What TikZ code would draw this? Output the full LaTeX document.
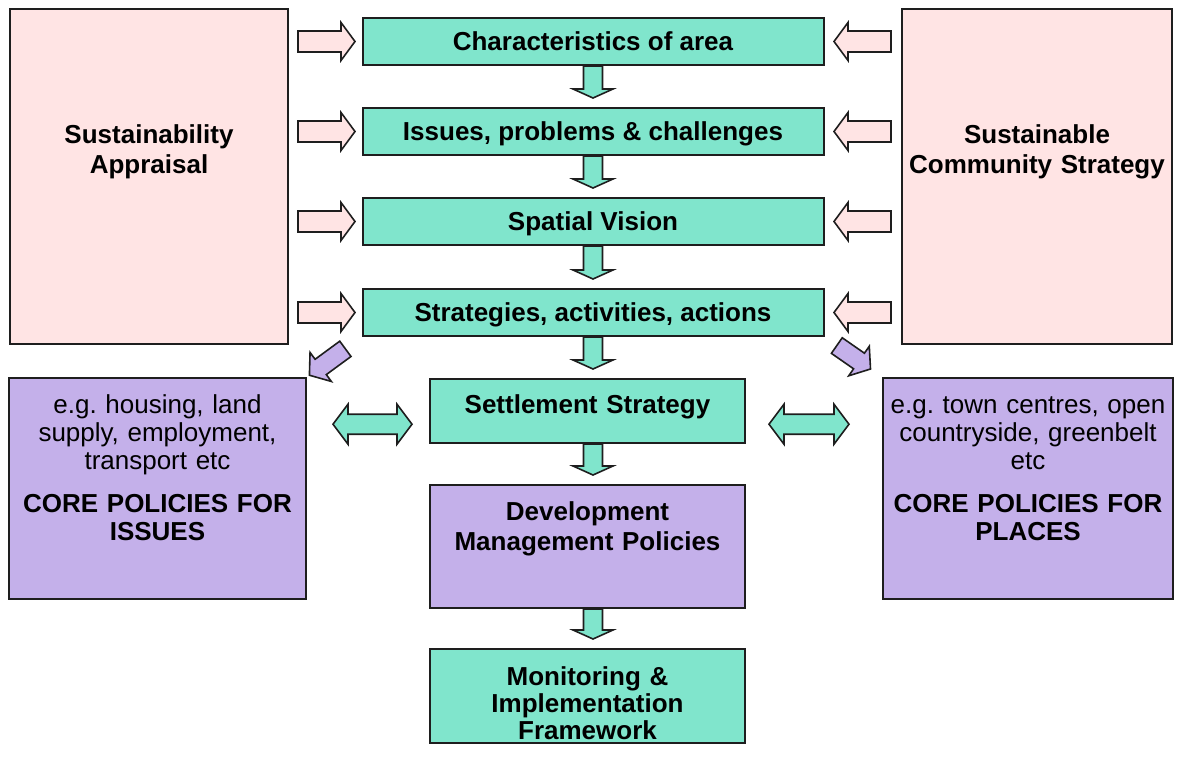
\documentclass[tikz,border=0pt]{standalone}
\usepackage{fontspec}
\setmainfont{Liberation Sans}
\usetikzlibrary{calc}
\frenchspacing

\definecolor{areagreen}{RGB}{128,229,204}
\definecolor{appraisalpink}{RGB}{255,228,228}
\definecolor{policylilac}{RGB}{196,176,234}
\definecolor{edgegrey}{RGB}{30,30,30}

\tikzset{
  ba shaft/.store in=\bashaft, ba head/.store in=\bahead, ba tip/.store in=\batip,
  ba gapa/.store in=\bagapa, ba gapb/.store in=\bagapb,
  ba shaft=5pt, ba head=10pt, ba tip=7pt, ba gapa=0pt, ba gapb=0pt,
  % block arrow drawn between two points
  block arrow/.style={draw=edgegrey, line width=0.8pt, line join=miter, to path={
    ($(\tikztostart)!\bagapa!(\tikztotarget)$) coordinate (ba-a)
    ($(\tikztotarget)!\bagapb!(\tikztostart)$) coordinate (ba-b)
    ($(ba-b)!\batip!(ba-a)$) coordinate (ba-h)
    ($(ba-a)!\bashaft!90:(ba-b)$) -- ($(ba-h)!\bashaft!90:(ba-b)$)
    -- ($(ba-h)!\bahead!90:(ba-b)$) -- (ba-b) -- ($(ba-h)!\bahead!-90:(ba-b)$)
    -- ($(ba-h)!\bashaft!-90:(ba-b)$) -- ($(ba-a)!\bashaft!-90:(ba-b)$) -- cycle}},
  % block arrow with a head at both ends
  block both/.style={draw=edgegrey, line width=0.8pt, line join=miter, to path={
    ($(\tikztostart)!\bagapa!(\tikztotarget)$) coordinate (ba-a)
    ($(\tikztotarget)!\bagapb!(\tikztostart)$) coordinate (ba-b)
    ($(ba-b)!\batip!(ba-a)$) coordinate (ba-h)
    ($(ba-a)!\batip!(ba-b)$) coordinate (ba-g)
    ($(ba-g)!\bashaft!90:(ba-b)$) -- ($(ba-h)!\bashaft!90:(ba-b)$)
    -- ($(ba-h)!\bahead!90:(ba-b)$) -- (ba-b) -- ($(ba-h)!\bahead!-90:(ba-b)$)
    -- ($(ba-h)!\bashaft!-90:(ba-b)$) -- ($(ba-g)!\bashaft!-90:(ba-b)$)
    -- ($(ba-g)!\bahead!-90:(ba-b)$) -- (ba-a) -- ($(ba-g)!\bahead!90:(ba-b)$) -- cycle}},
}

\begin{document}
\begin{tikzpicture}[x=0.5pt, y=-0.5pt,
  box/.style={draw=edgegrey, line width=1pt, inner sep=0pt, align=center, anchor=north,
    font=\bfseries\fontsize{13}{15}\selectfont},
  appraisal/.style={box, fill=appraisalpink, text height=67pt, text depth=100.5pt},
  stage/.style={box, fill=areagreen, minimum width=230.5pt, text height=16pt, text depth=7.5pt},
  core/.style={box, fill=policylilac, font=\fontsize{13}{14}\selectfont,
    text height=17.5pt, text depth=93pt},
  feed/.style={block arrow, fill=appraisalpink, ba shaft=5.25pt, ba head=9.5pt, ba tip=7pt},
  drop/.style={block arrow, fill=areagreen, ba shaft=4.75pt, ba head=10pt, ba tip=4.5pt, ba gapb=4.5pt},
  link/.style={block both, fill=areagreen, ba shaft=5pt, ba head=10pt, ba tip=7.5pt},
  branch/.style={block arrow, fill=policylilac, ba shaft=4.75pt, ba head=9pt, ba tip=7pt}]
\useasboundingbox (0,0) rectangle (1179,771);

% side boxes
\node [appraisal, text width=139pt] (SA) at (149,8) {Sustainability\\ Appraisal};
\node [appraisal, text width=135pt] (SCS) at (1037,8) {Sustainable\\ Community Strategy};

% stages
\foreach \n/\y/\t in {char/17/Characteristics of area, issues/107/{Issues, problems \& challenges},
    vision/197/Spatial Vision, strat/288/{Strategies, activities, actions}}
	\node [stage] (\n) at (593,\y) {\t};

\node [box, fill=areagreen, text width=157.5pt, text height=17pt, text depth=15pt] (settle) at (587.5,378) {Settlement Strategy};
\node [box, fill=policylilac, text width=157.5pt, text height=17.5pt, text depth=44pt] (dev) at (587.5,484) {Development\\ Management Policies};
\node [box, fill=areagreen, text width=157.5pt, text height=18pt, text depth=29pt,
  font=\bfseries\fontsize{13}{13.5}\selectfont] (monitor) at (587.5,648) {Monitoring \&\\ Implementation\\ Framework};

% core policies
\node [core, text width=148.5pt] (IS) at (157.5,377) {e.g. housing, land\\ supply, employment,\\ transport etc\\[7.5pt]
  \textbf{CORE POLICIES FOR}\\ \textbf{ISSUES}};
\node [core, text width=145pt] (PL) at (1028,377) {e.g. town centres, open\\ countryside, greenbelt\\ etc\\[7.5pt]
  \textbf{CORE POLICIES FOR}\\ \textbf{PLACES}};

% feeds from the side boxes
\foreach \n in {char,issues,vision,strat} {
	\draw [feed, ba gapa=4.5pt, ba gapb=3.25pt] (SA.east |- \n.west) to (\n.west);
	\draw [feed, ba gapa=5pt, ba gapb=4.75pt] (SCS.west |- \n.east) to (\n.east);
}

% flow down
\foreach \a/\b in {char/issues, issues/vision, vision/strat}
	\draw [drop] (\a.south) to (\b.north);
\draw [drop] (strat.south) to (strat.south |- settle.north);
\draw [drop] (strat.south |- settle.south) to (strat.south |- dev.north);
\draw [drop] (strat.south |- dev.south) to (strat.south |- monitor.north);

% links to core policies
\coordinate (link-l) at ($(settle.west)!0.4!(settle.south west)$);
\coordinate (link-r) at ($(settle.east)!0.4!(settle.south east)$);
\draw [link, ba gapa=13pt, ba gapb=8.5pt] (IS.east |- link-l) to (link-l);
\draw [link, ba gapa=11.5pt, ba gapb=16.5pt] (link-r) to (PL.west |- link-r);
\draw [branch, ba gapa=10pt, ba gapb=1.5pt] (strat.south west) to (IS.north east);
\draw [branch, ba gapa=7.5pt, ba gapb=7pt] (strat.south east) to (PL.north west);

\end{tikzpicture}
\end{document}
